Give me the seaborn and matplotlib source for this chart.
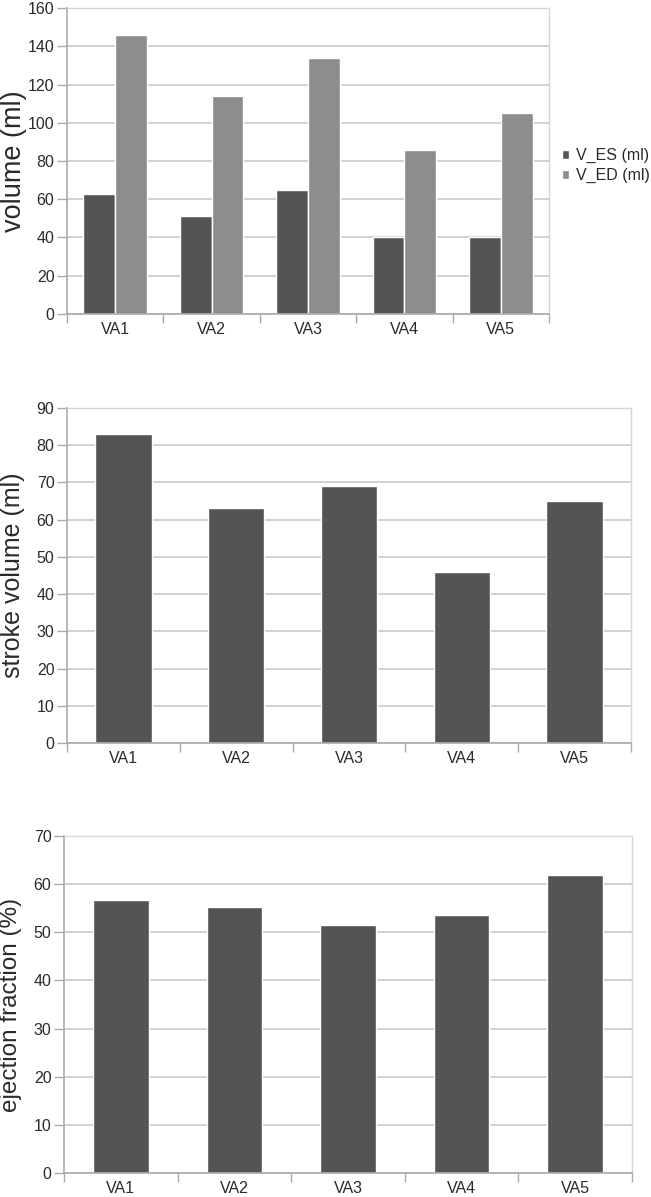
import seaborn as sns
import matplotlib.pyplot as plt
import pandas as pd
import numpy as np
from matplotlib.ticker import FixedLocator

subjects = ["VA1", "VA2", "VA3", "VA4", "VA5"]
v_es = [63, 51, 65, 40, 40]
v_ed = [146, 114, 134, 86, 105]
stroke_volume = [83, 63, 69, 46, 65]
ejection_fraction = [56.8, 55.3, 51.6, 53.6, 61.8]

dark = "#535456"
light = "#8c8d8f"
grid_c = "#c9c9c9"

sns.set_style("white")
plt.rcParams['font.family'] = ['Liberation Sans', 'DejaVu Sans']

fig = plt.figure(figsize=(6.51, 11.97), dpi=100)


def style_axes(ax, ymax, step, ylabel, label_x, label_size):
    ax.set_ylim(0, ymax)
    ax.set_xlim(-0.5, len(subjects) - 0.5)
    ax.set_yticks(np.arange(0, ymax + 1, step))
    ax.yaxis.grid(True, color=grid_c, linewidth=1.2)
    ax.set_axisbelow(True)
    for side in ["top", "right"]:
        ax.spines[side].set_color("#d6d6d6")
        ax.spines[side].set_linewidth(1.0)
    for side in ["left", "bottom"]:
        ax.spines[side].set_color("#aaaaaa")
        ax.spines[side].set_linewidth(1.2)
    ax.tick_params(axis="y", which="major", direction="out", length=7, width=1,
                   color="#aaaaaa", labelsize=11.5, labelcolor="#2a2a2a", pad=2, left=True)
    ax.tick_params(axis="x", which="major", length=0, labelsize=11.5,
                   labelcolor="#2a2a2a", pad=6)
    # category separators below the axis
    ax.xaxis.set_minor_locator(FixedLocator(np.arange(-0.5, len(subjects), 1.0)))
    ax.tick_params(axis="x", which="minor", direction="out", length=6.5, width=1,
                   color="#aaaaaa", bottom=True)
    ax.set_xlabel("")
    ax.set_ylabel(ylabel, fontsize=label_size, color="#2a2a2a")
    ax.yaxis.set_label_coords(label_x, 0.5)
    ax.set_facecolor("white")


# volumes
ax1 = fig.add_axes([0.1029, 0.7377, 0.7404, 0.2556])
df_vol = pd.DataFrame({
    "subject": subjects * 2,
    "value": v_es + v_ed,
    "series": ["V_ES (ml)"] * len(subjects) + ["V_ED (ml)"] * len(subjects),
})
sns.barplot(data=df_vol, x="subject", y="value", hue="series",
            palette=[dark, light], width=0.66, saturation=1, ax=ax1)
style_axes(ax1, 160, 20, "volume (ml)", -0.083, 19.5)
leg = ax1.legend(loc="center left", bbox_to_anchor=(1.027, 0.484), frameon=False,
                 fontsize=11.5, handlelength=0.45, handleheight=0.45, handletextpad=0.4,
                 labelspacing=0.3, borderaxespad=0, borderpad=0)
for t in leg.get_texts():
    t.set_color("#2a2a2a")

# stroke volume
ax2 = fig.add_axes([0.1029, 0.3793, 0.8664, 0.2799])
df_sv = pd.DataFrame({"subject": subjects, "value": stroke_volume})
sns.barplot(data=df_sv, x="subject", y="value", color=dark, width=0.5,
            saturation=1, ax=ax2)
style_axes(ax2, 90, 10, "stroke volume (ml)", -0.074, 18)

# ejection fraction
ax3 = fig.add_axes([0.0983, 0.0201, 0.8725, 0.2815])
df_ef = pd.DataFrame({"subject": subjects, "value": ejection_fraction})
sns.barplot(data=df_ef, x="subject", y="value", color=dark, width=0.49,
            saturation=1, ax=ax3)
style_axes(ax3, 70, 10, "ejection fraction (%)", -0.074, 17.5)

fig.savefig("out.png", dpi=100, facecolor="white")
